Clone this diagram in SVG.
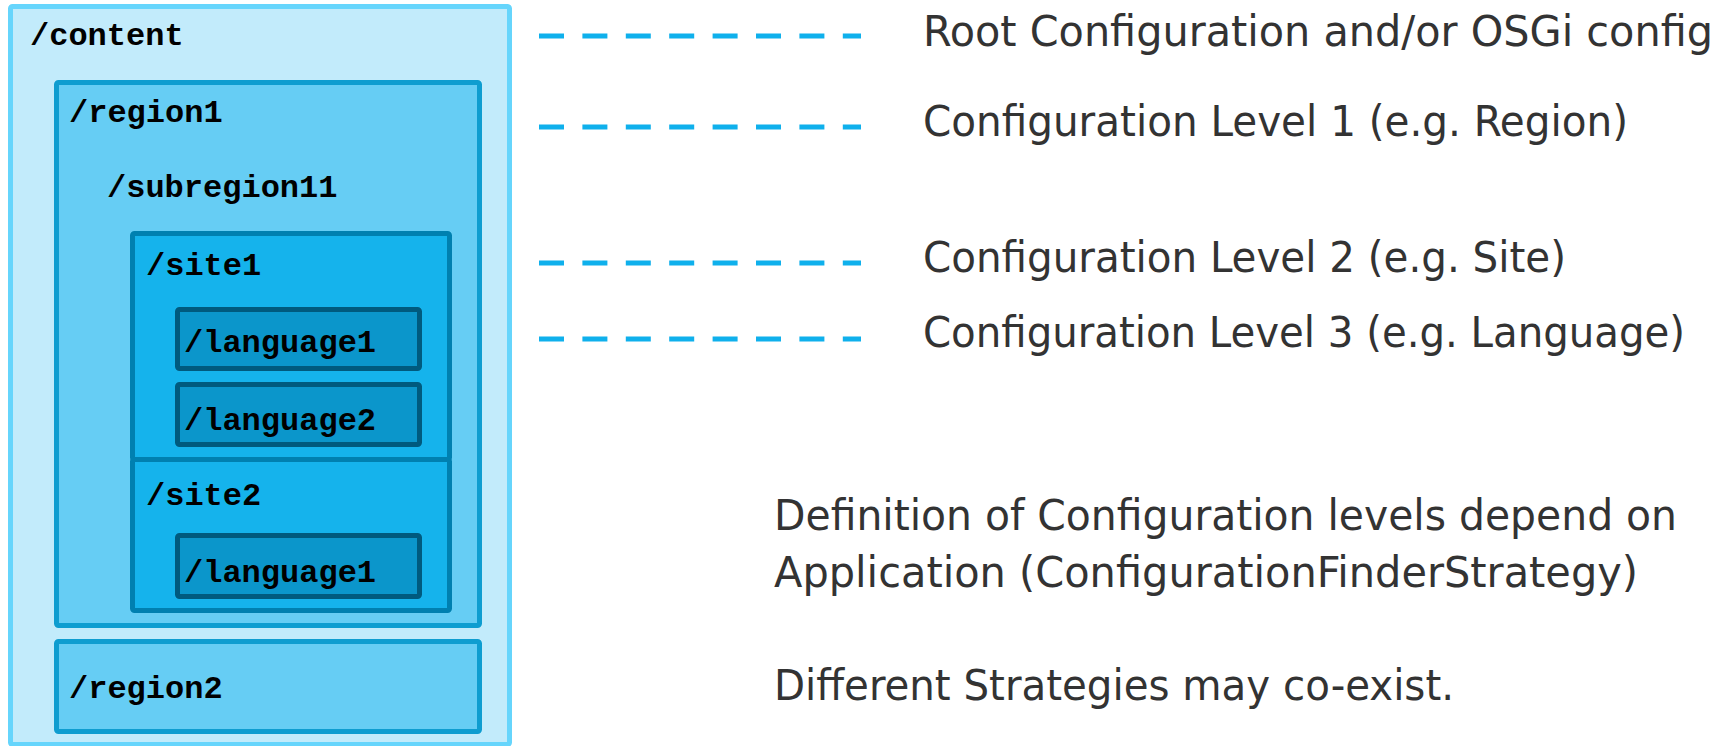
<svg xmlns="http://www.w3.org/2000/svg" width="1727" height="746" viewBox="0 0 1727 746">
<style>
.mono{font-family:"Liberation Mono","Courier New",monospace;font-weight:bold;font-size:32px;fill:#000}
.lbl{font-family:"DejaVu Sans Condensed","DejaVu Sans",sans-serif;font-stretch:condensed;font-size:43px;fill:#333}
.dash{stroke:#0fb0ec;stroke-width:5;stroke-dasharray:25 18.4;fill:none}
.c0{fill:#c2ebfb;stroke:#66d5fc;stroke-width:5}
.c1{fill:#66cdf4;stroke:#0e9dd0;stroke-width:5}
.c2{fill:#15b3ec;stroke:#0080b0;stroke-width:5}
.c3{fill:#0b96cb;stroke:#005a7e;stroke-width:5}
</style>
<rect width="1727" height="746" fill="#fff"/>
<g id="content">
<rect class="c0" x="10.5" y="6.5" width="499" height="738" rx="2"/>
<text class="mono" x="30" y="45">/content</text>
</g>
<g id="region1">
<rect class="c1" x="56.5" y="82.5" width="423" height="543" rx="2"/>
<text class="mono" x="69" y="122">/region1</text>
<text class="mono" x="107" y="197">/subregion11</text>
</g>
<g id="site1">
<rect class="c2" x="132.5" y="233.5" width="317" height="226" rx="2"/>
<text class="mono" x="146" y="275">/site1</text>
</g>
<g id="site1-language1">
<rect class="c3" x="177.5" y="309.5" width="242" height="59" rx="2"/>
<text class="mono" x="184" y="352">/language1</text>
</g>
<g id="site1-language2">
<rect class="c3" x="177.5" y="384.5" width="242" height="60" rx="2"/>
<text class="mono" x="184" y="430">/language2</text>
</g>
<g id="site2">
<rect class="c2" x="132.5" y="459.5" width="317" height="151" rx="2"/>
<text class="mono" x="146" y="505">/site2</text>
</g>
<g id="site2-language1">
<rect class="c3" x="177.5" y="535.5" width="242" height="61" rx="2"/>
<text class="mono" x="184" y="582">/language1</text>
</g>
<g id="region2">
<rect class="c1" x="56.5" y="641.5" width="423" height="90" rx="2"/>
<text class="mono" x="69" y="698">/region2</text>
</g>
<g id="connectors">
<line class="dash" x1="539" y1="36" x2="861" y2="36"/>
<line class="dash" x1="539" y1="127" x2="861" y2="127"/>
<line class="dash" x1="539" y1="263" x2="861" y2="263"/>
<line class="dash" x1="539" y1="339" x2="861" y2="339"/>
</g>
<g id="labels">
<text class="lbl" x="923" y="46" textLength="790" lengthAdjust="spacingAndGlyphs">Root Configuration and/or OSGi config</text>
<text class="lbl" x="923" y="136" textLength="705" lengthAdjust="spacingAndGlyphs">Configuration Level 1 (e.g. Region)</text>
<text class="lbl" x="923" y="272" textLength="643" lengthAdjust="spacingAndGlyphs">Configuration Level 2 (e.g. Site)</text>
<text class="lbl" x="923" y="347" textLength="762" lengthAdjust="spacingAndGlyphs">Configuration Level 3 (e.g. Language)</text>
<text class="lbl" x="774" y="530" textLength="903" lengthAdjust="spacingAndGlyphs">Definition of Configuration levels depend on</text>
<text class="lbl" x="774" y="587" textLength="864" lengthAdjust="spacingAndGlyphs">Application (ConfigurationFinderStrategy)</text>
<text class="lbl" x="774" y="700" textLength="680" lengthAdjust="spacingAndGlyphs">Different Strategies may co-exist.</text>
</g>
</svg>
